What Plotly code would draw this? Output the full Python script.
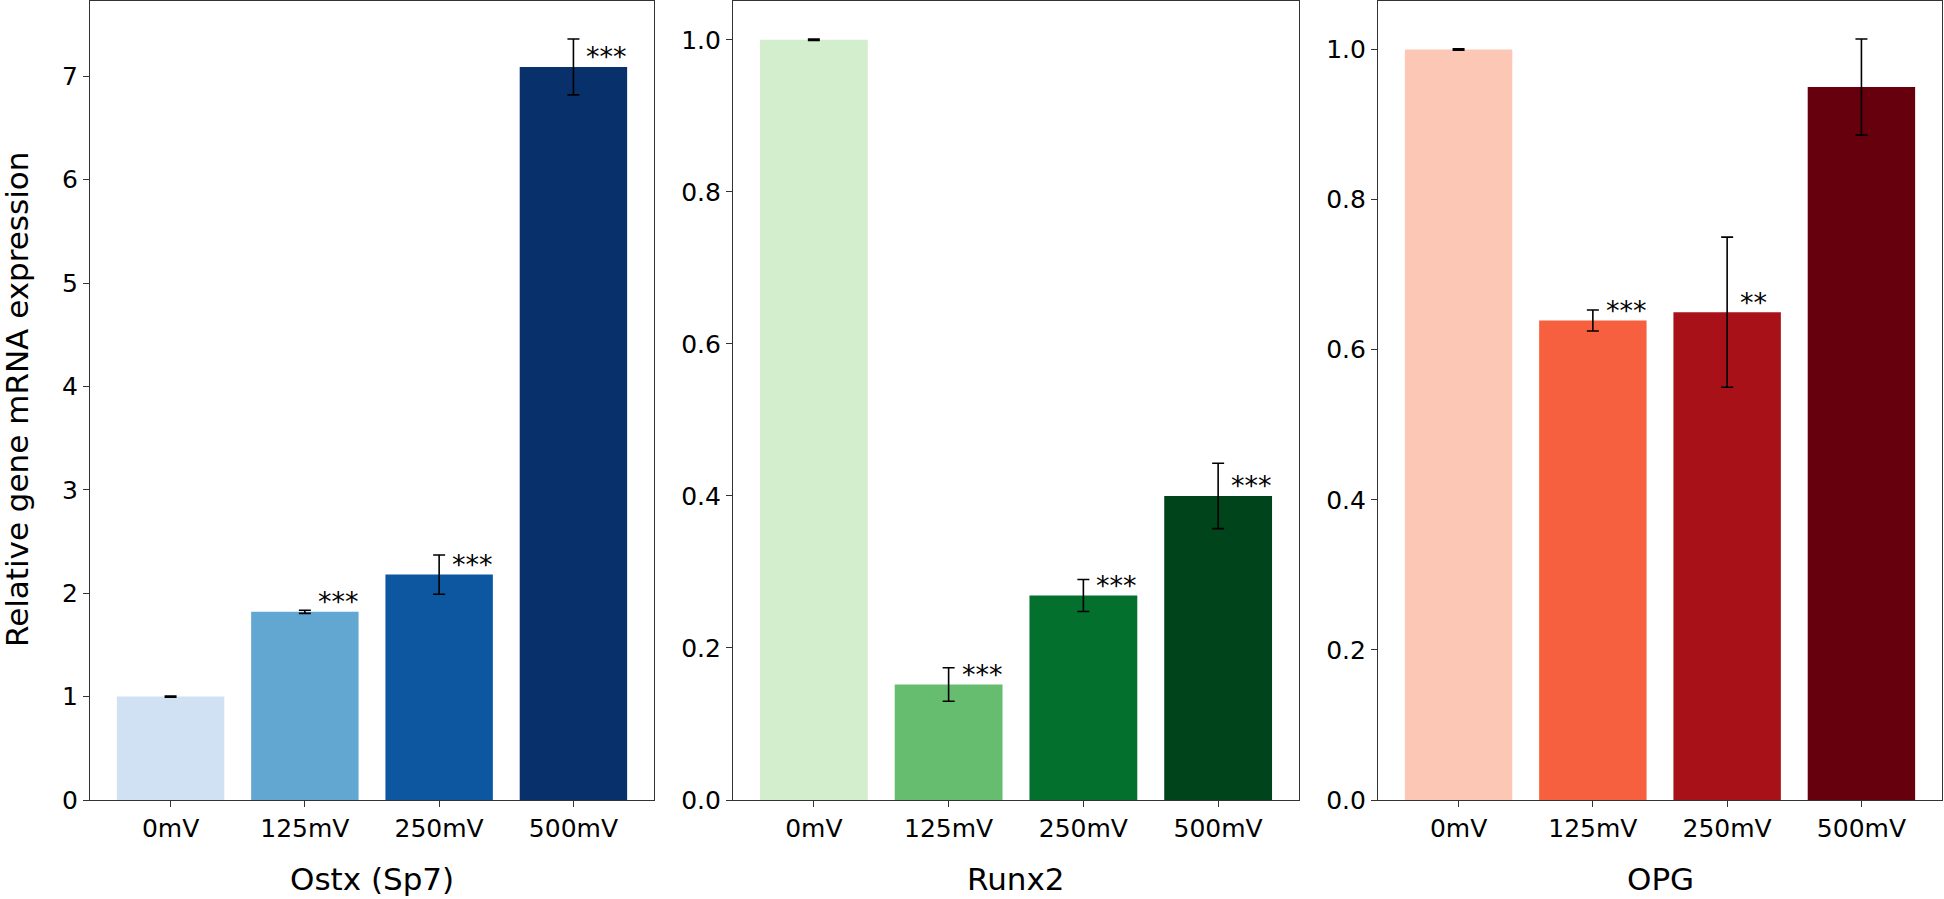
import plotly.graph_objects as go

# ---- data ----
categories = ["0mV", "125mV", "250mV", "500mV"]

ostx_values = [1.00, 1.82, 2.18, 7.09]
ostx_errors = [0.005, 0.015, 0.19, 0.27]
ostx_stars = ["", "***", "***", "***"]

runx2_values = [1.00, 0.152, 0.269, 0.400]
runx2_errors = [0.001, 0.022, 0.021, 0.043]
runx2_stars = ["", "***", "***", "***"]

opg_values = [1.00, 0.639, 0.650, 0.950]
opg_errors = [0.001, 0.014, 0.100, 0.064]
opg_stars = ["", "***", "**", ""]

panel_titles = ["Ostx (Sp7)", "Runx2", "OPG"]
y_title = "Relative gene mRNA expression"

blues = ["#cfe1f2", "#62a7d2", "#0d57a1", "#08306b"]
greens = ["#d3eecd", "#66bd6f", "#03702e", "#00441b"]
reds = ["#fcc8b5", "#f6603f", "#a81118", "#67000d"]

W, H = 1944, 899
FONT = "DejaVu Sans"

panels = [
    (ostx_values, ostx_errors, ostx_stars, blues, (90, 654), 1, ",d"),
    (runx2_values, runx2_errors, runx2_stars, greens, (733, 1299), 0.2, ".1f"),
    (opg_values, opg_errors, opg_stars, reds, (1378, 1942), 0.2, ".1f"),
]

fig = go.Figure()
layout = dict(
    width=W, height=H,
    margin=dict(l=0, r=0, t=0, b=0, autoexpand=False),
    paper_bgcolor="white", plot_bgcolor="white",
    showlegend=False,
    font=dict(family=FONT, color="black", size=25),
    bargap=0.2,
)
annotations = []
y_top, y_bot = 1, 800
ydom = [(H - y_bot) / H, (H - y_top) / H]

for i, (vals, errs, stars, cols, (x0, x1), dtick, fmt) in enumerate(panels):
    n = "" if i == 0 else str(i + 1)
    xa, ya = "x" + n, "y" + n
    fig.add_trace(go.Bar(
        x=categories, y=vals, xaxis=xa, yaxis=ya,
        marker=dict(color=cols, line=dict(width=0)),
        error_y=dict(type="data", array=errs, color="black", thickness=1.6, width=6),
    ))
    ymax = max(v + e for v, e in zip(vals, errs)) * 1.05
    axis_common = dict(showline=True, mirror=True, linecolor="#333333", linewidth=1.2,
                       showgrid=False, zeroline=False, ticks="outside", ticklen=6,
                       automargin=False,
                       tickcolor="#333333", tickfont=dict(family=FONT, size=25, color="black"))
    layout["xaxis" + n] = dict(domain=[x0 / W, x1 / W], anchor=ya, type="category",
                               range=[-0.6, 3.6], **axis_common)
    layout["yaxis" + n] = dict(domain=ydom, anchor=xa, range=[0, ymax], dtick=dtick,
                               tick0=0, tickformat=fmt, **axis_common)
    for c, v, s in zip(categories, vals, stars):
        if s:
            annotations.append(dict(x=c, y=v, xref=xa, yref=ya, text=s, showarrow=False,
                                    xanchor="left", yanchor="middle", xshift=11, yshift=10,
                                    font=dict(family=FONT, size=27, color="black")))
    annotations.append(dict(x=(x0 + x1) / 2 / W, y=(H - 879) / H, xref="paper", yref="paper",
                            text=panel_titles[i], showarrow=False, xanchor="center",
                            yanchor="middle", font=dict(family=FONT, size=31, color="black")))

annotations.append(dict(x=17 / W, y=(H - 400) / H, xref="paper", yref="paper", text=y_title,
                        textangle=-90, showarrow=False, xanchor="center", yanchor="middle",
                        font=dict(family=FONT, size=31, color="black")))
layout["annotations"] = annotations
fig.update_layout(**layout)

post = "document.body.style.margin='0';document.body.style.overflow='hidden';"
fig.write_html("out.html", config={"displayModeBar": False}, post_script=post)
